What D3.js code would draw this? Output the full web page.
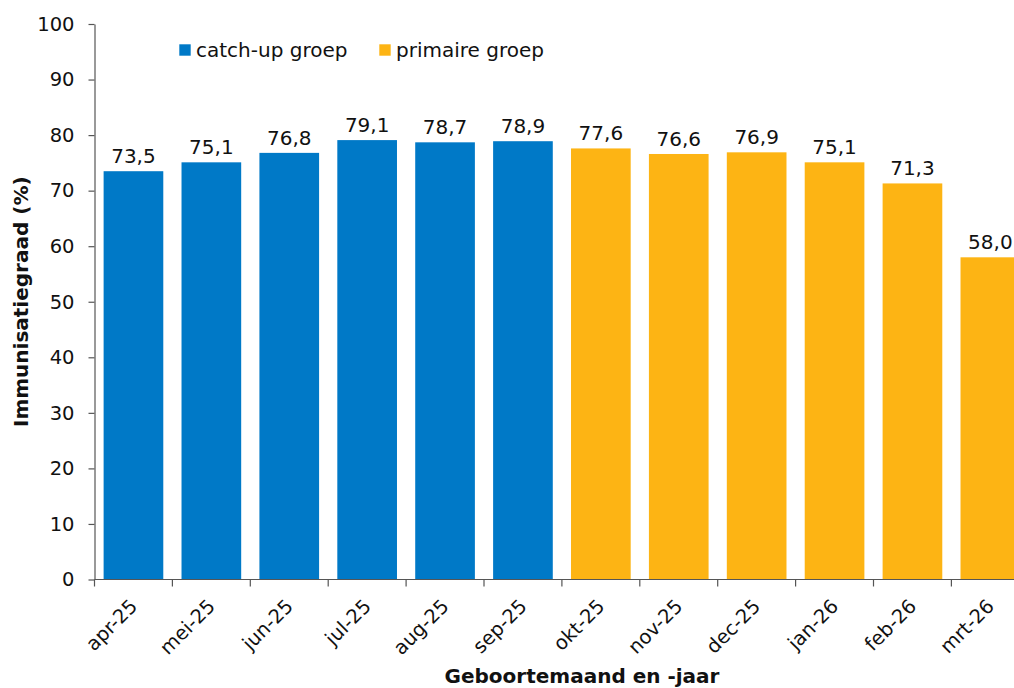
<!DOCTYPE html>
<html>
<head>
<meta charset="utf-8">
<script src="https://cdn.jsdelivr.net/npm/d3@7"></script>
<style>
  html, body { margin: 0; padding: 0; background: #fff; }
  svg { display: block; font-family: "DejaVu Sans", Verdana, sans-serif; }
</style>
</head>
<body>
<svg id="chart" width="1014" height="688"></svg>
<script>
// Immunisation rate per birth month
const months = ["apr-25","mei-25","jun-25","jul-25","aug-25","sep-25","okt-25","nov-25","dec-25","jan-26","feb-26","mrt-26"];
const rates  = [73.5, 75.1, 76.8, 79.1, 78.7, 78.9, 77.6, 76.6, 76.9, 75.1, 71.3, 58.0];
const groups = ["catch-up","catch-up","catch-up","catch-up","catch-up","catch-up","primair","primair","primair","primair","primair","primair"];
const groupNames  = ["catch-up", "primair"];
const groupLabels = ["catch-up groep", "primaire groep"];
const groupColors = ["#0079C7", "#FDB414"];
const yTicks = [0,10,20,30,40,50,60,70,80,90,100];

const svg = d3.select("#chart");
const plotLeft = 94.5, plotRight = 1029.3, plotTop = 24, plotBottom = 579.5;

const x = d3.scaleBand().domain(months).range([plotLeft, plotRight]).paddingInner(0.234).paddingOuter(0.117);
const y = d3.scaleLinear().domain([0, 100]).range([plotBottom, plotTop]);
const color = d3.scaleOrdinal().domain(groupNames).range(groupColors);

const data = months.map((m, i) => ({ month: m, value: rates[i], group: groups[i] }));

// bars
svg.append("g").selectAll("rect").data(data).join("rect")
  .attr("x", d => x(d.month))
  .attr("y", d => y(d.value))
  .attr("width", x.bandwidth())
  .attr("height", d => y(0) - y(d.value))
  .attr("fill", d => color(d.group));

// value labels
svg.append("g").selectAll("text").data(data).join("text")
  .attr("x", d => x(d.month) + x.bandwidth() / 2)
  .attr("y", d => y(d.value) - 8)
  .attr("text-anchor", "middle")
  .attr("font-size", 20)
  .attr("fill", "#111")
  .text(d => d.value.toFixed(1).replace(".", ","));

// y axis
const yAxis = svg.append("g")
  .attr("transform", `translate(${plotLeft},0)`)
  .call(d3.axisLeft(y).tickValues(yTicks).tickSize(6).tickPadding(14).tickSizeOuter(0));
yAxis.selectAll("text").attr("font-size", 19.5).attr("fill", "#111").attr("font-family", "DejaVu Sans, sans-serif");
yAxis.selectAll("line, path").attr("stroke", "#555").attr("stroke-width", 1.2);

// x axis: ticks sit on band boundaries
const xAxisG = svg.append("g").attr("transform", `translate(0,${plotBottom})`);
xAxisG.append("line")
  .attr("x1", plotLeft).attr("x2", plotRight).attr("y1", 0).attr("y2", 0)
  .attr("stroke", "#555").attr("stroke-width", 1.2);
const step = x.step();
const boundaries = d3.range(months.length + 1).map(i => plotLeft + i * step);
xAxisG.selectAll("line.tick").data(boundaries).join("line")
  .attr("class", "tick")
  .attr("x1", d => d).attr("x2", d => d)
  .attr("y1", 0).attr("y2", 7)
  .attr("stroke", "#555").attr("stroke-width", 1.2);
xAxisG.selectAll("text").data(months).join("text")
  .attr("transform", d => `translate(${x(d) + x.bandwidth() / 2 + 5},${28}) rotate(-45)`)
  .attr("text-anchor", "end")
  .attr("font-size", 19.5)
  .attr("fill", "#111")
  .text(d => d);

// axis titles
svg.append("text")
  .attr("transform", `translate(28,${(plotTop + plotBottom) / 2}) rotate(-90)`)
  .attr("text-anchor", "middle")
  .attr("font-size", 20)
  .attr("font-weight", "bold")
  .attr("fill", "#111")
  .text("Immunisatiegraad (%)");

svg.append("text")
  .attr("x", 582).attr("y", 683)
  .attr("text-anchor", "middle")
  .attr("font-size", 20)
  .attr("font-weight", "bold")
  .attr("fill", "#111")
  .text("Geboortemaand en -jaar");

// legend
const legendX = [179.3, 379.3];
const legend = svg.append("g").selectAll("g").data(groupNames).join("g")
  .attr("transform", (d, i) => `translate(${legendX[i]},44.3)`);
legend.append("rect").attr("width", 11.4).attr("height", 11.4).attr("fill", d => color(d));
legend.append("text")
  .attr("x", 16.7).attr("y", 13)
  .attr("font-size", 20)
  .attr("fill", "#111")
  .text((d, i) => groupLabels[i]);
</script>
</body>
</html>
